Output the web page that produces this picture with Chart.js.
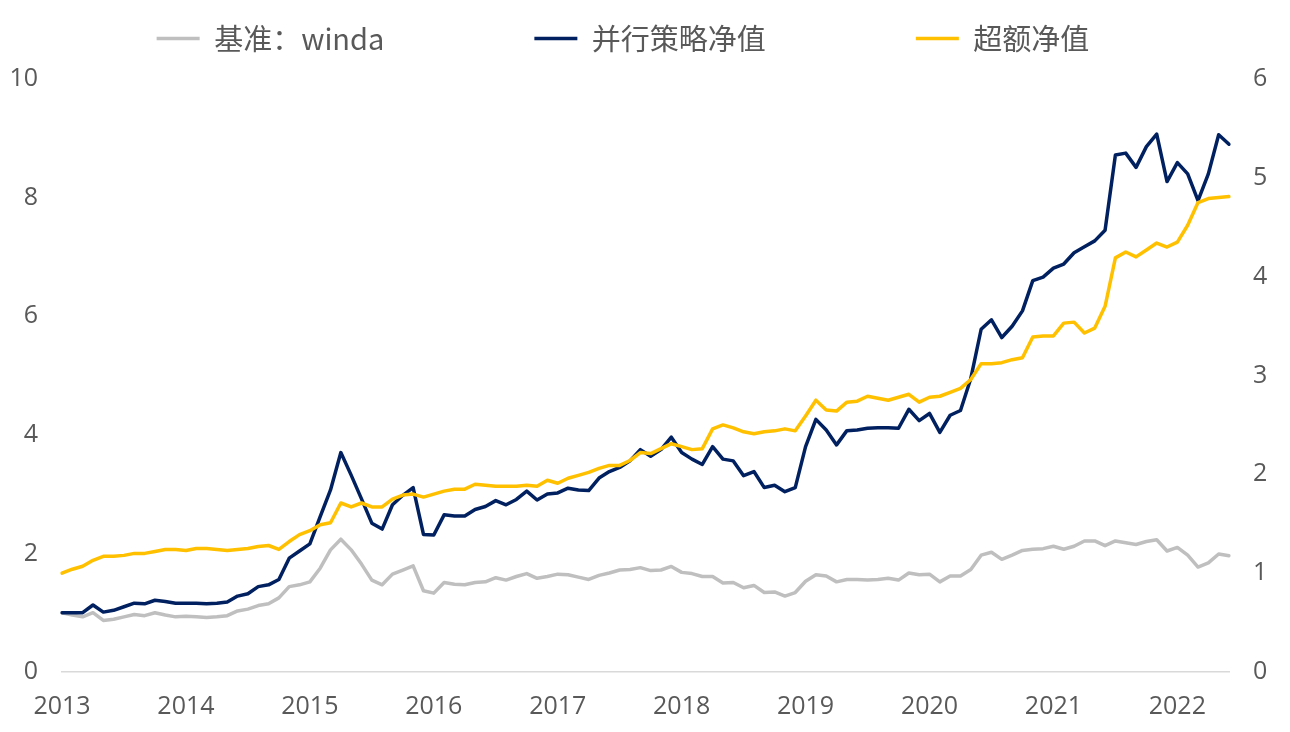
<!DOCTYPE html>
<html>
<head>
<meta charset="utf-8">
<style>
  html, body { margin: 0; padding: 0; background: #ffffff; }
  #wrap { width: 1290px; height: 732px; }
</style>
<script src="https://cdn.jsdelivr.net/npm/chart.js@4"></script>
</head>
<body>
<div id="wrap"><canvas id="c" width="1290" height="732"></canvas></div>
<script>
// ---- data (monthly, 2013-01 .. 2022-06) ----
const startYear = 2013;
const monthCount = 114;
const categories = [];
for (let i = 0; i < monthCount; i++) {
  const y = startYear + Math.floor(i / 12);
  const m = (i % 12) + 1;
  categories.push(y + '-' + (m < 10 ? '0' + m : m));
}

const seriesNames = ['基准：winda', '并行策略净值', '超额净值'];

const windaValues = [
  1.00, 0.96, 0.93, 1.00, 0.87, 0.89, 0.93, 0.97, 0.95, 1.00, 0.96, 0.93,
  0.94, 0.93, 0.92, 0.93, 0.95, 1.03, 1.06, 1.12, 1.15, 1.25, 1.44, 1.47,
  1.52, 1.75, 2.06, 2.24, 2.06, 1.82, 1.55, 1.47, 1.65, 1.72, 1.79, 1.37,
  1.33, 1.51, 1.48, 1.47, 1.51, 1.52, 1.59, 1.55, 1.61, 1.66, 1.58, 1.61,
  1.65, 1.64, 1.60, 1.56, 1.63, 1.67, 1.72, 1.73, 1.76, 1.71, 1.72, 1.78,
  1.68, 1.66, 1.61, 1.61, 1.50, 1.51, 1.42, 1.46, 1.34, 1.35, 1.28, 1.34,
  1.53, 1.64, 1.62, 1.52, 1.56, 1.56, 1.55, 1.56, 1.58, 1.55, 1.67, 1.64,
  1.65, 1.52, 1.62, 1.62, 1.73, 1.97, 2.02, 1.90, 1.97, 2.05, 2.07, 2.08,
  2.12, 2.07, 2.12, 2.21, 2.21, 2.13, 2.21, 2.18, 2.15, 2.20, 2.23, 2.04,
  2.10, 1.97, 1.77, 1.84, 1.99, 1.96
];

const strategyValues = [
  1.00, 1.00, 1.00, 1.13, 1.01, 1.04, 1.10, 1.16, 1.15, 1.21, 1.19, 1.16,
  1.16, 1.16, 1.15, 1.16, 1.18, 1.28, 1.32, 1.44, 1.47, 1.56, 1.92, 2.04,
  2.16, 2.62, 3.07, 3.70, 3.32, 2.92, 2.51, 2.41, 2.82, 2.98, 3.11, 2.32,
  2.31, 2.65, 2.63, 2.63, 2.74, 2.79, 2.89, 2.82, 2.91, 3.05, 2.90, 3.00,
  3.02, 3.10, 3.07, 3.06, 3.27, 3.38, 3.45, 3.56, 3.75, 3.64, 3.75, 3.96,
  3.70, 3.59, 3.50, 3.80, 3.59, 3.56, 3.31, 3.38, 3.11, 3.15, 3.04, 3.11,
  3.80, 4.26, 4.08, 3.83, 4.07, 4.08, 4.11, 4.12, 4.12, 4.11, 4.43, 4.24,
  4.36, 4.04, 4.33, 4.41, 4.95, 5.78, 5.94, 5.64, 5.83, 6.09, 6.60, 6.66,
  6.81, 6.88, 7.07, 7.17, 7.27, 7.45, 8.72, 8.75, 8.51, 8.86, 9.07, 8.27,
  8.59, 8.40, 7.95, 8.40, 9.06, 8.90
];

const excessValues = [
  1.00, 1.04, 1.07, 1.13, 1.17, 1.17, 1.18, 1.20, 1.20, 1.22, 1.24, 1.24,
  1.23, 1.25, 1.25, 1.24, 1.23, 1.24, 1.25, 1.27, 1.28, 1.24, 1.32, 1.39,
  1.43, 1.49, 1.51, 1.71, 1.67, 1.71, 1.67, 1.67, 1.75, 1.79, 1.80, 1.77,
  1.80, 1.83, 1.85, 1.85, 1.90, 1.89, 1.88, 1.88, 1.88, 1.89, 1.88, 1.94,
  1.91, 1.96, 1.99, 2.02, 2.06, 2.09, 2.09, 2.14, 2.22, 2.21, 2.26, 2.31,
  2.28, 2.25, 2.26, 2.46, 2.50, 2.47, 2.43, 2.41, 2.43, 2.44, 2.46, 2.44,
  2.59, 2.75, 2.65, 2.64, 2.73, 2.74, 2.79, 2.77, 2.75, 2.78, 2.81, 2.73,
  2.78, 2.79, 2.83, 2.87, 2.96, 3.12, 3.12, 3.13, 3.16, 3.18, 3.39, 3.40,
  3.40, 3.53, 3.54, 3.43, 3.48, 3.70, 4.19, 4.25, 4.20, 4.27, 4.34, 4.30,
  4.35, 4.52, 4.75, 4.79, 4.80, 4.81
];

const leftTicks = { min: 0, max: 10, step: 2 };
const rightTicks = { min: 0, max: 6, step: 1 };

// ---- styling ----
const TEXT = '#595959';
const TICK_FONT = { family: '"Open Sans", "Liberation Sans", sans-serif', size: 25 };
const LEGEND_PAD = 150;

// Places the legend row at the reference height/offset while keeping wide item spacing
const legendPlacer = {
  id: 'legendPlacer',
  beforeDraw(chart) {
    const lg = chart.legend;
    if (lg) { lg.top = 24 - LEGEND_PAD; lg.left = -44; }
  }
};

new Chart(document.getElementById('c'), {
  type: 'line',
  data: {
    labels: categories,
    datasets: [
      { label: seriesNames[0], data: windaValues, yAxisID: 'yL', borderColor: '#BFBFBF', backgroundColor: '#BFBFBF', borderWidth: 3.5, order: 3 },
      { label: seriesNames[1], data: strategyValues, yAxisID: 'yL', borderColor: '#002060', backgroundColor: '#002060', borderWidth: 3.5, order: 2 },
      { label: seriesNames[2], data: excessValues, yAxisID: 'yR', borderColor: '#FFC000', backgroundColor: '#FFC000', borderWidth: 3.5, order: 1 }
    ]
  },
  options: {
    responsive: false,
    animation: false,
    layout: { padding: 0 },
    elements: { point: { radius: 0, hoverRadius: 0 }, line: { tension: 0, borderCapStyle: 'round', borderJoinStyle: 'round' } },
    plugins: {
      tooltip: { enabled: false },
      legend: {
        position: 'top',
        maxHeight: 79,
        labels: {
          usePointStyle: true,
          pointStyle: 'line',
          pointStyleWidth: 43,
          padding: LEGEND_PAD,
          color: TEXT,
          font: { family: '"Noto Sans CJK SC", sans-serif', size: 29 },
          sort: (a, b) => a.datasetIndex - b.datasetIndex
        }
      }
    },
    scales: {
      x: {
        type: 'category',
        offset: false,
        grid: { display: false, drawTicks: false },
        border: { display: true, color: '#D9D9D9', width: 1.5 },
        ticks: {
          autoSkip: false,
          maxRotation: 0,
          minRotation: 0,
          padding: 20,
          color: TEXT,
          font: TICK_FONT,
          callback(value) {
            const lab = this.getLabelForValue(value);
            return lab.endsWith('-01') ? lab.slice(0, 4) : '';
          }
        },
        afterFit(s) { s.height = 60; }
      },
      yL: {
        position: 'left',
        min: leftTicks.min, max: leftTicks.max,
        grid: { display: false, drawTicks: false },
        border: { display: false },
        ticks: { stepSize: leftTicks.step, padding: 24, color: TEXT, font: TICK_FONT },
        afterFit(s) { s.width = 62; }
      },
      yR: {
        position: 'right',
        min: rightTicks.min, max: rightTicks.max,
        grid: { display: false, drawTicks: false },
        border: { display: false },
        ticks: { stepSize: rightTicks.step, padding: 24, color: TEXT, font: TICK_FONT },
        afterFit(s) { s.width = 61; }
      }
    }
  },
  plugins: [legendPlacer]
});
</script>
</body>
</html>
